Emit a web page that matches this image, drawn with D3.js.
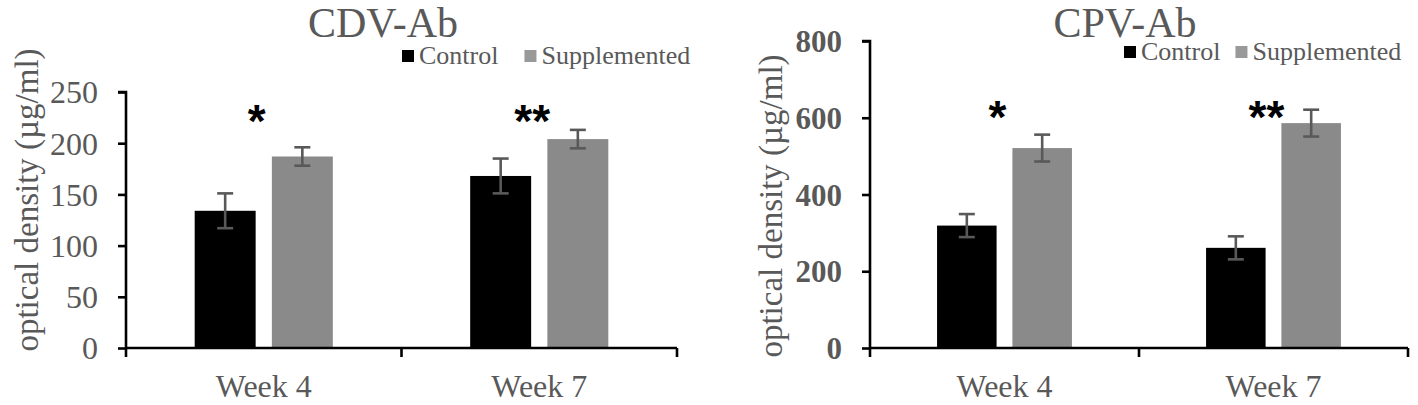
<!DOCTYPE html>
<html>
<head>
<meta charset="utf-8">
<script src="https://cdn.jsdelivr.net/npm/d3@7"></script>
<style>
  body { margin: 0; background: #fff; }
  text { font-family: "Liberation Serif", "Times New Roman", serif; fill: #595959; }
</style>
</head>
<body>
<div id="canvas"></div>
<script>
// ---------- DATA ----------
const weeks = ["Week 4", "Week 7"];
const groups = ["Control", "Supplemented"];

// CDV antibodies
const cdvControl = [134, 168];
const cdvSupp = [187, 204];
const cdvControlErr = [17, 17];
const cdvSuppErr = [9, 9];
const cdvSig = ["*", "**"];
const cdvTicks = [0, 50, 100, 150, 200, 250];

// CPV antibodies
const cpvControl = [319, 261];
const cpvSupp = [521, 586];
const cpvControlErr = [30, 30];
const cpvSuppErr = [35, 35];
const cpvSig = ["*", "**"];
const cpvTicks = [0, 200, 400, 600, 800];

// ---------- GLOBALS ----------
const W = 1418, H = 405;
const colors = { Control: "#000000", Supplemented: "#8a8a8a" };

const svg = d3.select("#canvas")
  .append("svg")
  .attr("width", W)
  .attr("height", H);

function drawPanel(cfg) {
  const g = svg.append("g");

  const x0 = d3.scaleBand()
    .domain(weeks)
    .range([cfg.left, cfg.right])
    .paddingInner(0)
    .paddingOuter(0);

  const x1 = d3.scaleBand()
    .domain(groups)
    .range([0, x0.bandwidth()])
    .paddingInner(0.21)
    .paddingOuter(0.89);

  const y = d3.scaleLinear()
    .domain([0, d3.max(cfg.ticks)])
    .range([cfg.bottom, cfg.top]);

  const rows = [];
  weeks.forEach((w, i) => {
    rows.push({ week: w, group: "Control", v: cfg.control[i], e: cfg.controlErr[i] });
    rows.push({ week: w, group: "Supplemented", v: cfg.supp[i], e: cfg.suppErr[i] });
  });

  // bars
  g.selectAll("rect.bar")
    .data(rows)
    .join("rect")
    .attr("class", "bar")
    .attr("x", d => x0(d.week) + x1(d.group))
    .attr("y", d => y(d.v))
    .attr("width", x1.bandwidth())
    .attr("height", d => y(0) - y(d.v))
    .attr("fill", d => colors[d.group]);

  // error bars
  const cap = 8;
  const mid = d => x0(d.week) + x1(d.group) + x1.bandwidth() / 2;
  const eb = g.selectAll("g.err")
    .data(rows)
    .join("g")
    .attr("class", "err")
    .attr("stroke", "#595959")
    .attr("stroke-width", 2.6);
  eb.append("line")
    .attr("x1", mid).attr("x2", mid)
    .attr("y1", d => y(d.v + d.e))
    .attr("y2", d => y(d.v - d.e));
  eb.append("line")
    .attr("x1", d => mid(d) - cap).attr("x2", d => mid(d) + cap)
    .attr("y1", d => y(d.v + d.e))
    .attr("y2", d => y(d.v + d.e));
  eb.append("line")
    .attr("x1", d => mid(d) - cap).attr("x2", d => mid(d) + cap)
    .attr("y1", d => y(d.v - d.e))
    .attr("y2", d => y(d.v - d.e));

  // y axis
  const yAxis = g.append("g")
    .attr("transform", `translate(${cfg.left},0)`)
    .call(d3.axisLeft(y).tickValues(cfg.ticks).tickSize(8).tickPadding(20));
  yAxis.attr("font-family", null).attr("font-size", null);
  yAxis.select(".domain").attr("stroke", "#000").attr("stroke-width", 2.6)
    .attr("d", `M0,${cfg.bottom}V${cfg.top}H-8`);
  yAxis.selectAll(".tick line").attr("stroke", "#000").attr("stroke-width", 2.6);
  yAxis.selectAll(".tick text")
    .attr("fill", "#595959")
    .style("font-family", '"Liberation Serif", serif')
    .style("font-size", cfg.tickSize + "px")
    .style("font-weight", cfg.tickBold ? "bold" : "normal")
    .attr("dy", "0.34em");

  // x axis
  const xAxis = g.append("g")
    .attr("transform", `translate(0,${cfg.bottom})`)
    .call(d3.axisBottom(x0).tickSize(0).tickPadding(26));
  xAxis.attr("font-family", null).attr("font-size", null);
  xAxis.select(".domain").attr("stroke", "#000").attr("stroke-width", 2.6)
    .attr("d", `M${cfg.left},0H${cfg.right}`);
  xAxis.selectAll(".tick text")
    .attr("fill", "#595959")
    .style("font-family", '"Liberation Serif", serif')
    .style("font-size", "32px");
  // category separators
  const bounds = [cfg.left, x0(weeks[1]), cfg.right];
  g.selectAll("line.sep")
    .data(bounds)
    .join("line")
    .attr("class", "sep")
    .attr("x1", d => d).attr("x2", d => d)
    .attr("y1", cfg.bottom).attr("y2", cfg.bottom + 9)
    .attr("stroke", "#000").attr("stroke-width", 2.6);

  // y label
  g.append("text")
    .attr("transform", `translate(${cfg.left - 88},${cfg.labelY}) rotate(-90)`)
    .attr("text-anchor", "middle")
    .style("font-size", "33px")
    .text("optical density (\u00b5g/ml)");

  // title
  g.append("text")
    .attr("x", cfg.titleX)
    .attr("y", cfg.titleY)
    .attr("text-anchor", "middle")
    .style("font-size", "42px")
    .text(cfg.title);

  // significance marks
  g.selectAll("text.sig")
    .data(weeks)
    .join("text")
    .attr("class", "sig")
    .attr("x", d => x0(d) + x0.bandwidth() / 2 - 7)
    .attr("y", y(cfg.sigLevel))
    .attr("text-anchor", "middle")
    .style("font-family", '"Liberation Sans", Arial, sans-serif')
    .style("font-weight", "bold")
    .style("font-size", "46px")
    .style("fill", "#000")
    .text((d, i) => cfg.sig[i]);

  // legend
  const leg = g.append("g").attr("transform", `translate(${cfg.legendX},${cfg.legendY})`);
  let cx = 0;
  groups.forEach(gr => {
    leg.append("rect")
      .attr("x", cx).attr("y", -14)
      .attr("width", 12).attr("height", 12)
      .attr("fill", gr === "Control" ? "#000" : "#999");
    const t = leg.append("text")
      .attr("x", cx + 17).attr("y", 0)
      .style("font-size", "26px")
      .text(gr);
    cx += 17 + t.node().getComputedTextLength() + cfg.legendGap;
  });
}

drawPanel({
  title: "CDV-Ab", titleX: 383, titleY: 37,
  left: 126, right: 677, top: 92, bottom: 348,
  ticks: cdvTicks, tickSize: 32, tickBold: false,
  control: cdvControl, supp: cdvSupp, controlErr: cdvControlErr, suppErr: cdvSuppErr,
  sig: cdvSig, sigLevel: 206,
  labelY: 200, legendX: 402, legendY: 64, legendGap: 26
});

drawPanel({
  title: "CPV-Ab", titleX: 1125, titleY: 37,
  left: 870, right: 1408, top: 41, bottom: 348,
  ticks: cpvTicks, tickSize: 31, tickBold: true,
  control: cpvControl, supp: cpvSupp, controlErr: cpvControlErr, suppErr: cpvSuppErr,
  sig: cpvSig, sigLevel: 560,
  labelY: 206, legendX: 1124, legendY: 60, legendGap: 15
});
</script>
</body>
</html>
